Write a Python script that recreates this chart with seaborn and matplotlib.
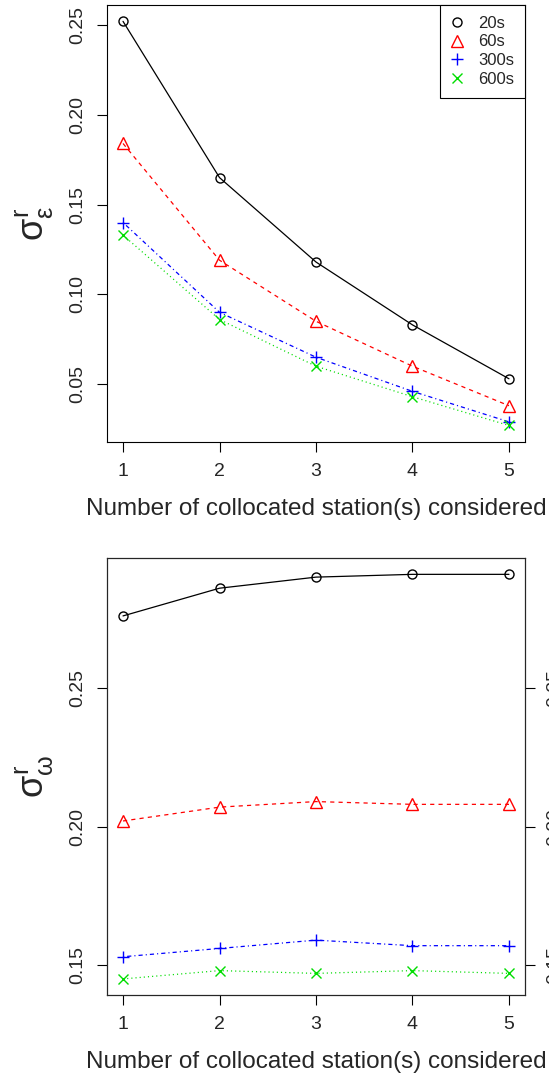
import matplotlib
matplotlib.use("Agg")
import matplotlib.pyplot as plt
import seaborn as sns
from matplotlib.lines import Line2D

sns.set_style("ticks")
plt.rcParams['font.family'] = ['Liberation Sans', 'DejaVu Sans']
plt.rcParams['mathtext.fontset'] = 'custom'
plt.rcParams['mathtext.rm'] = 'Liberation Sans'
plt.rcParams['mathtext.it'] = 'Liberation Sans'
plt.rcParams['lines.scale_dashes'] = False

# ---------------- data ----------------
stations = [1, 2, 3, 4, 5]
series_labels = ["20s", "60s", "300s", "600s"]

eps_20s = [0.252, 0.165, 0.118, 0.083, 0.053]
eps_60s = [0.184, 0.119, 0.085, 0.060, 0.038]
eps_300s = [0.140, 0.090, 0.065, 0.046, 0.029]
eps_600s = [0.133, 0.086, 0.060, 0.043, 0.027]

omg_20s = [0.276, 0.286, 0.290, 0.291, 0.291]
omg_60s = [0.202, 0.207, 0.209, 0.208, 0.208]
omg_300s = [0.153, 0.156, 0.159, 0.157, 0.157]
omg_600s = [0.145, 0.148, 0.147, 0.148, 0.147]

top_yticks = [0.05, 0.10, 0.15, 0.20, 0.25]
bot_yticks = [0.15, 0.20, 0.25]
xlabel = "Number of collocated station(s) considered"

# ---------------- styles ----------------
colors = ["black", "red", "blue", "#00dd00"]
markers = ["o", "^", "+", "x"]
msizes = [6.5, 8, 9, 7]
lstyles = ["-", (0, (3, 3)), (0, (0.8, 2.2, 3, 2.2)), (0, (0.8, 2.2))]

W, H = 549, 1076
fig = plt.figure(figsize=(W / 100, H / 100), dpi=100)

def frac_axes(l, t, r, b):
    return fig.add_axes([l / W, 1 - b / H, (r - l) / W, (b - t) / H])

ax1 = frac_axes(107, 5, 525, 442)
ax2 = frac_axes(107, 558, 525, 995)

def draw(ax, data, yticks, ylim, ylabel):
    for vals, c, m, ms, ls, lab in zip(data, colors, markers, msizes, lstyles, series_labels):
        sns.lineplot(x=stations, y=vals, ax=ax, color=c, linewidth=0.9,
                     linestyle=ls, marker=m, markersize=ms,
                     markerfacecolor="none", markeredgecolor=c,
                     markeredgewidth=1.0, label=lab, legend=False)
    ax.set_xlim(0.834, 5.166)
    ax.set_ylim(*ylim)
    ax.set_xticks(stations)
    ax.set_xticklabels([str(s) for s in stations])
    ax.set_yticks(yticks)
    ax.set_yticklabels([f"{v:.2f}" for v in yticks], rotation=90, va="center")
    ax.tick_params(axis="both", length=7, width=0.8, labelsize=14, color="black")
    ax.tick_params(axis="x", pad=8)
    ax.tick_params(axis="y", pad=8)
    for s in ax.spines.values():
        s.set_visible(True)
        s.set_linewidth(0.8)
        s.set_color("black")
    ax.set_xlabel(xlabel, fontsize=17.5, labelpad=13)
    ax.set_ylabel(ylabel, fontsize=26, labelpad=10)
    ax.grid(False)

draw(ax1, [eps_20s, eps_60s, eps_300s, eps_600s], top_yticks, (0.0178, 0.2611),
     r"$\sigma_{\varepsilon}^{r}$")
draw(ax2, [omg_20s, omg_60s, omg_300s, omg_600s], bot_yticks, (0.1392, 0.2969),
     r"$\sigma_{\omega}^{r}$")

# right axis on bottom panel (labels run off the figure edge, as in the original)
ax2r = ax2.twinx()
ax2r.set_ylim(ax2.get_ylim())
ax2r.set_yticks(bot_yticks)
ax2r.set_yticklabels([f"{v:.2f}" for v in bot_yticks], rotation=90, va="center")
ax2r.tick_params(axis="y", length=7, width=0.8, labelsize=14, pad=8, color="black")

# legend
handles = [Line2D([], [], color=c, marker=m, markersize=ms, linestyle="none",
                  markerfacecolor="none", markeredgecolor=c, markeredgewidth=1.0)
           for c, m, ms in zip(colors, markers, msizes)]
leg = ax1.legend(handles, series_labels, loc="upper right", fontsize=12,
                 frameon=True, fancybox=False, framealpha=1, edgecolor="black",
                 borderaxespad=0, handlelength=0.8, handletextpad=0.85,
                 labelspacing=0.22, borderpad=0.65)
leg.get_frame().set_linewidth(0.8)

fig.savefig("out.png", dpi=100)
